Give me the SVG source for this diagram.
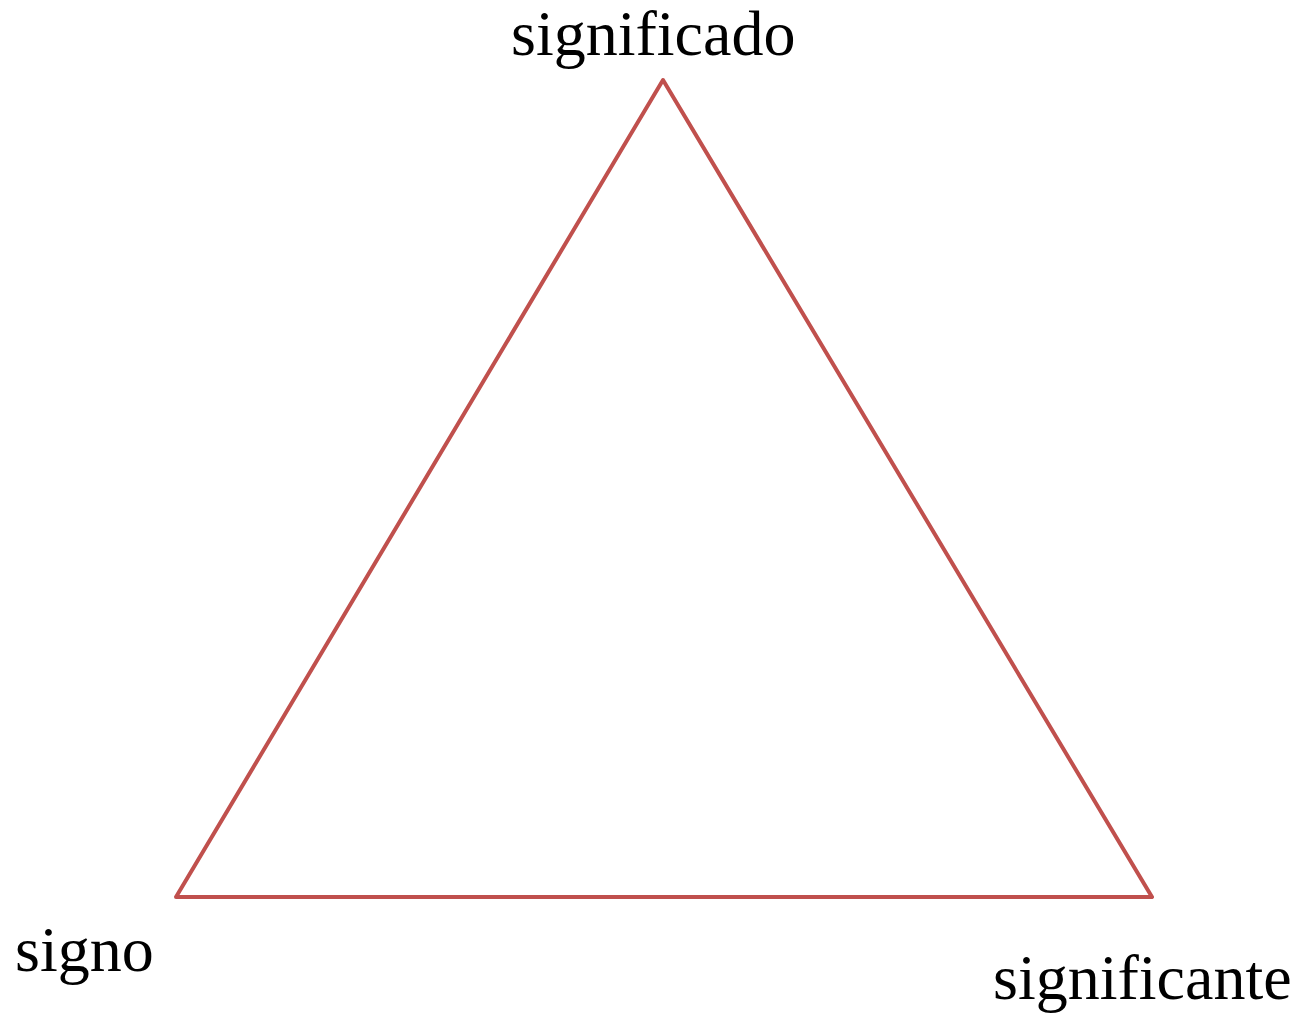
<svg xmlns="http://www.w3.org/2000/svg" width="1310" height="1015" viewBox="0 0 1310 1015">
<style>
.lbl{font-family:"Liberation Serif","Times New Roman",serif;font-size:64px;fill:#000}
.tri{fill:none;stroke:#c0504d;stroke-width:4;stroke-linejoin:round}
</style>
<rect width="1310" height="1015" fill="#fff"/>
<g id="connectors">
<polygon class="tri" points="663,80 1152,897 176,897"/>
</g>
<g id="significado"><text class="lbl" x="511" y="55">significado</text></g>
<g id="signo"><text class="lbl" x="15" y="971">signo</text></g>
<g id="significante"><text class="lbl" x="993" y="999">significante</text></g>
</svg>
